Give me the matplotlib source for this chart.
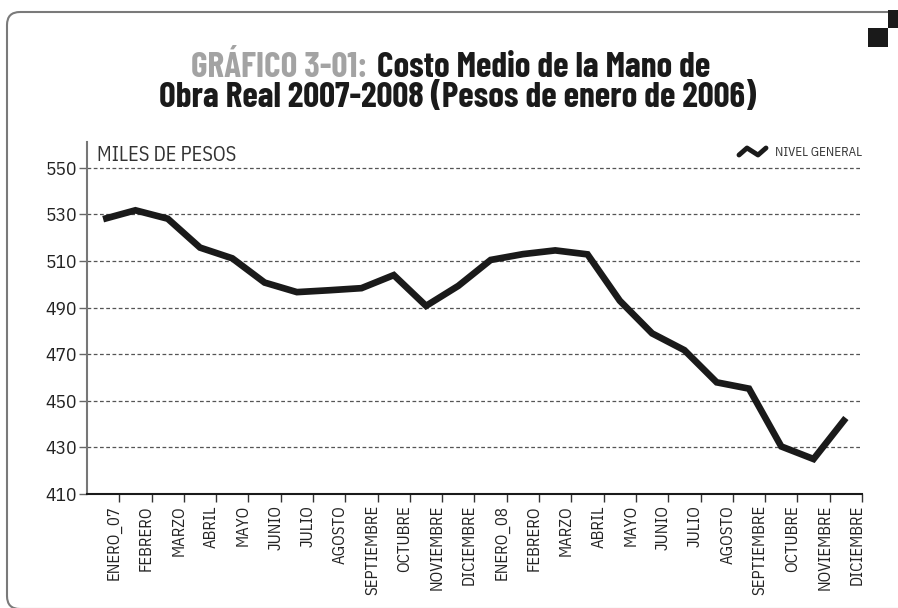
import matplotlib
matplotlib.use('Agg')
import matplotlib.pyplot as plt
from matplotlib import font_manager as fm
from matplotlib.patches import FancyBboxPatch, Rectangle
import numpy as np

# datos: costo medio de la mano de obra real (miles de pesos de enero 2006)
meses = ['ENERO_07', 'FEBRERO', 'MARZO', 'ABRIL', 'MAYO', 'JUNIO', 'JULIO',
         'AGOSTO', 'SEPTIEMBRE', 'OCTUBRE', 'NOVIEMBRE', 'DICIEMBRE',
         'ENERO_08', 'FEBRERO', 'MARZO', 'ABRIL', 'MAYO', 'JUNIO', 'JULIO',
         'AGOSTO', 'SEPTIEMBRE', 'OCTUBRE', 'NOVIEMBRE', 'DICIEMBRE']
costo = [527.9, 531.7, 528.1, 515.7, 511.1, 500.7, 496.6, 497.4, 498.3,
         503.9, 490.7, 499.3, 510.4, 512.9, 514.5, 512.8, 492.9, 478.9,
         471.7, 457.9, 455.2, 430.4, 425.0, 442.6]
yticks = [410, 430, 450, 470, 490, 510, 530, 550]


def pick(*cands):
    # primera familia instalada de la lista
    avail = {f.name for f in fm.fontManager.ttflist}
    for c in cands:
        if c in avail:
            return c
    return 'DejaVu Sans'


tfont = pick('Barlow Condensed', 'Oswald', 'Roboto Condensed', 'IBM Plex Sans Condensed')
body = pick('IBM Plex Sans Condensed', 'Roboto Condensed', 'Archivo Narrow')
W, H = 898, 608

fig = plt.figure(figsize=(W / 100, H / 100), dpi=100)

# capa de fondo en pixeles (marco, titulo, leyenda)
bg = fig.add_axes([0, 0, 1, 1])
bg.set_xlim(0, W)
bg.set_ylim(H, 0)
bg.axis('off')

frame = FancyBboxPatch((7, 12), 960, 597, boxstyle='round,pad=0,rounding_size=13',
                       fc='none', ec='#7a7a7a', lw=1.5, clip_on=False)
bg.add_patch(frame)
bg.add_patch(Rectangle((888, 10), 10, 18, fc='#1a1a1a', ec='none'))
bg.add_patch(Rectangle((868, 28), 20, 19, fc='#1a1a1a', ec='none'))

tkw = dict(va='baseline', fontfamily=tfont, fontweight='bold', fontsize=24)
t1a = bg.text(367, 77, 'GRÁFICO 3-01:', ha='right', color='#a3a3a3', **tkw)
t1b = bg.text(377, 77, 'Costo Medio de la Mano de', ha='left', color='#1a1a1a', **tkw)
t2 = bg.text(458, 107, 'Obra Real 2007-2008 (Pesos de enero de 2006)', ha='center',
             color='#1a1a1a', **tkw)
# ajustar el tamano para que la segunda linea mida ~597 px
fig.canvas.draw()
ts = 24 * 597 / t2.get_window_extent().width
for t in (t1a, t1b, t2):
    t.set_fontsize(ts)

# icono de leyenda
bg.plot([739, 747, 758, 766], [155, 148, 155, 148], color='#1a1a1a', lw=3.5,
        solid_capstyle='round', solid_joinstyle='round')
bg.text(775, 152, 'NIVEL GENERAL', ha='left', va='center', color='#333333',
        fontsize=9.4, fontfamily=body)

# grafico principal
ax = fig.add_axes([87 / W, (H - 494) / H, (862 - 87) / W, (494 - 142) / H])
ax.set_facecolor('none')
x = np.arange(len(costo))
ax.plot(x, costo, color='#1a1a1a', lw=4.8, solid_joinstyle='miter',
        solid_capstyle='butt', zorder=3)

ax.set_xlim(-0.5, len(costo) - 0.5)
ax.set_ylim(410, 561)

for v in yticks[1:]:
    ax.axhline(v, color='#555555', lw=0.9, ls=(0, (3, 2)), zorder=1)

ax.set_yticks(yticks)
ax.set_yticklabels([str(v) for v in yticks], fontsize=14,
                   fontfamily=body, color='#222222')
ax.tick_params(axis='y', length=6, width=1, color='#666666', pad=1)

ax.set_xticks(x + 0.33)
ax.set_xticklabels(meses, rotation=90, fontsize=12, fontfamily=body,
                   color='#222222', va='top', ha='center')
ax.tick_params(axis='x', which='major', length=0, pad=8)
ax.set_xticks(x + 0.5, minor=True)
ax.tick_params(axis='x', which='minor', length=6, width=1, color='#333333')

for s in ['top', 'right']:
    ax.spines[s].set_visible(False)
ax.spines['left'].set_color('#777777')
ax.spines['left'].set_linewidth(1.5)
ax.spines['bottom'].set_color('#1a1a1a')
ax.spines['bottom'].set_linewidth(1.5)

ax.text(0.013, 0.963, 'MILES DE PESOS', transform=ax.transAxes, ha='left',
        va='center', fontsize=14.5, fontfamily=body, color='#333333')

fig.savefig('out.png', dpi=100)
